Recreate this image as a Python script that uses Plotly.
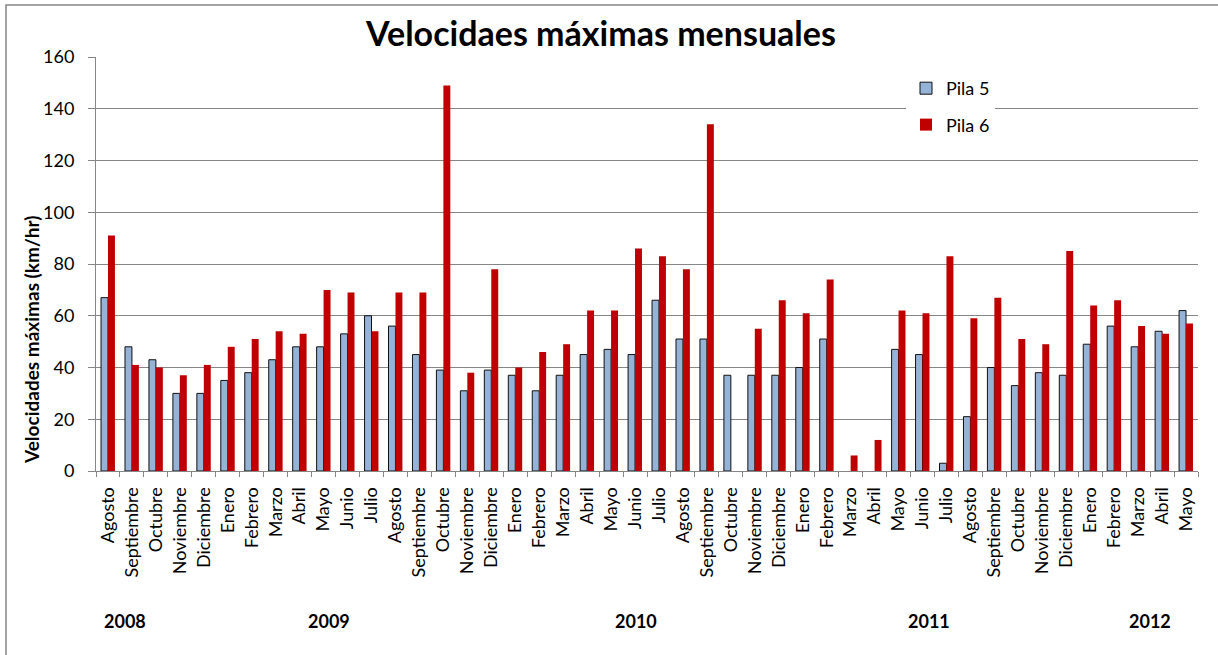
import plotly.graph_objects as go

# Monthly maximum wind speeds (km/hr), August 2008 - May 2012
meses = [
    "Agosto", "Septiembre", "Octubre", "Noviembre", "Diciembre",
    "Enero", "Febrero", "Marzo", "Abril", "Mayo", "Junio", "Julio",
    "Agosto", "Septiembre", "Octubre", "Noviembre", "Diciembre",
    "Enero", "Febrero", "Marzo", "Abril", "Mayo", "Junio", "Julio",
    "Agosto", "Septiembre", "Octubre", "Noviembre", "Diciembre",
    "Enero", "Febrero", "Marzo", "Abril", "Mayo", "Junio", "Julio",
    "Agosto", "Septiembre", "Octubre", "Noviembre", "Diciembre",
    "Enero", "Febrero", "Marzo", "Abril", "Mayo",
]

pila5 = [
    67, 48, 43, 30, 30,
    35, 38, 43, 48, 48, 53, 60,
    56, 45, 39, 31, 39,
    37, 31, 37, 45, 47, 45, 66,
    51, 51, 37, 37, 37,
    40, 51, None, None, 47, 45, 3,
    21, 40, 33, 38, 37,
    49, 56, 48, 54, 62,
]

pila6 = [
    91, 41, 40, 37, 41,
    48, 51, 54, 53, 70, 69, 54,
    69, 69, 149, 38, 78,
    40, 46, 49, 62, 62, 86, 83,
    78, 134, None, 55, 66,
    61, 74, 6, 12, 62, 61, 83,
    59, 67, 51, 49, 85,
    64, 66, 56, 53, 57,
]

# Year labels under the month names and where they sit along the category axis
anios = ["2008", "2009", "2010", "2011", "2012"]
anios_pos = [0.71, 9.23, 22.04, 34.27, 43.5]

idx = list(range(len(meses)))

FONT = "Lato"
GRID = "#868686"

fig = go.Figure()
fig.add_trace(go.Bar(
    x=idx, y=pila5, name="Pila 5", legendgroup="p5",
    marker=dict(color="#95B3D7", line=dict(color="#111111", width=1)),
))
fig.add_trace(go.Bar(
    x=idx, y=pila6, name="Pila 6", legendgroup="p6",
    marker=dict(color="#C00000", line=dict(width=0)),
))

fig.update_layout(
    width=1218, height=655,
    margin=dict(l=96, r=20, t=57, b=184),
    paper_bgcolor="white", plot_bgcolor="white",
    font=dict(family=FONT, size=18, color="black"),
    barmode="group", bargap=0.42, bargroupgap=0,
    title=dict(
        text="<b>Velocidaes máximas mensuales</b>",
        font=dict(family=FONT, size=34, color="black"),
        xref="container", x=601 / 1218, xanchor="center",
        yref="container", y=1 - 34 / 655, yanchor="middle",
    ),
    legend=dict(
        x=(906 - 96) / 1102, y=(471 - 70) / 414,
        xanchor="left", yanchor="top",
        bgcolor="white", borderwidth=0,
        font=dict(family=FONT, size=18, color="black"),
        traceorder="grouped", tracegroupgap=10,
    ),
    showlegend=True,
)

fig.update_xaxes(
    range=[-0.5, len(meses) - 0.5],
    tickmode="array", tickvals=idx, ticktext=meses,
    tickangle=-90, ticks="", ticklabelstandoff=8,
    tickfont=dict(family=FONT, size=18, color="black"),
    showline=True, linecolor=GRID, linewidth=1,
    showgrid=False, zeroline=False,
    minor=dict(
        tickmode="array",
        tickvals=[i - 0.5 for i in range(len(meses) + 1)],
        ticks="outside", ticklen=5, tickcolor=GRID, tickwidth=1,
        showgrid=False,
    ),
)

fig.update_yaxes(
    range=[0, 160], dtick=20,
    ticks="outside", ticklen=7, tickcolor=GRID, tickwidth=1,
    ticklabelstandoff=10,
    tickfont=dict(family=FONT, size=18, color="black"),
    showline=True, linecolor=GRID, linewidth=1,
    showgrid=True, gridcolor=GRID, gridwidth=1,
    zeroline=False,
)

# Vertical axis title
fig.add_annotation(
    text="<b>Velocidades máximas (km/hr)</b>",
    xref="paper", yref="paper",
    x=(32 - 96) / 1102, y=(471 - 340) / 414,
    xanchor="center", yanchor="middle",
    textangle=-90, showarrow=False,
    font=dict(family=FONT, size=19, color="black"),
)

# Year labels along the bottom
for anio, pos in zip(anios, anios_pos):
    fig.add_annotation(
        text=f"<b>{anio}</b>",
        xref="x", yref="paper",
        x=pos, y=(471 - 621) / 414,
        xanchor="center", yanchor="middle",
        showarrow=False,
        font=dict(family=FONT, size=18, color="black"),
    )

# Chart frame
fig.add_shape(
    type="rect", xref="paper", yref="paper",
    x0=(6 - 96) / 1102, x1=1.2,
    y0=-1.0, y1=(471 - 5) / 414,
    line=dict(color=GRID, width=1.5),
    fillcolor="rgba(0,0,0,0)", layer="below",
)

fig.write_html("out.html")
